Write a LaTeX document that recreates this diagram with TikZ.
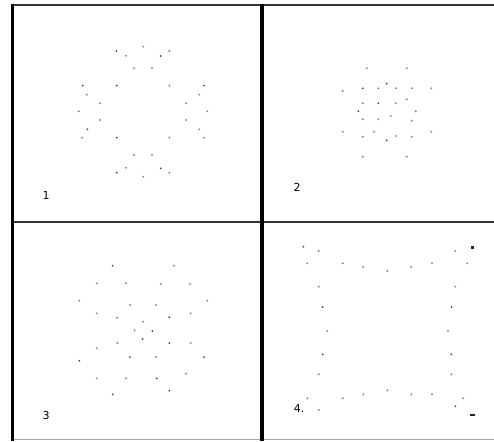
\documentclass[tikz,border=0pt]{standalone}
\usepackage{fontspec}
\setmainfont{DejaVu Sans}
\begin{document}
\begin{tikzpicture}[x=1pt, y=-1pt,
      frame/.style={line width=3.5pt, black},
      rule/.style={line width=2pt, black!80},
      dot/.style={fill=black!45},
      darkdot/.style={fill=black!75},
      tag/.style={font=\fontsize{11}{11}\selectfont, text=black, inner sep=0pt}]
    \useasboundingbox (0,0) rectangle (494,441);
    % grid
    \draw[rule] (11,5) -- (494,5);
    \draw[rule] (11,222) -- (494,222);
    \draw[line width=1pt, black!35] (11,439.5) -- (494,439.5);
    \draw[frame] (12.5,4) -- (12.5,441);
    \draw[frame] (262,4) -- (262,441);
    % panel 1
    \foreach \p in {(126,55.7),(143.3,46.7),(169.3,51),(134,68.3),(152,68.3),
        (169.3,85.7),(86.7,94.7),(199.3,94.7),(100,103.3),(186,103.3),
        (78.7,111.3),(207.3,111.3),(100,120),(186,120),(199.3,129.3),
        (82,137.7),(169.3,137.7),(204,137.7),(134,155),(152,155),
        (126,167.7),(143.3,176.7),(169.3,172.7)}
      \fill[dot] \p circle (1.1);
    \foreach \p in {(116.7,51),(160.7,56),(82.7,85.7),(116.7,85.7),(204,85.7),
        (87.3,129.3),(116.7,137.7),(116.7,172.7),(160.7,168.3)}
      \fill[darkdot] \p circle (1);
    % panel 2
    \foreach \p in {(366.7,68.3),(406.7,68.3),(342.7,91),(378.3,88.3),
        (395.7,88.3),(411.7,88.3),(431.3,88.3),(362.7,103.3),(395.7,103.3),
        (406.7,99.3),(415.7,111.3),(362.7,119.3),(378.3,119.3),(390.7,116),
        (411.7,120.7),(342.7,131.7),(374,131.7),(431.3,131.7),(362.7,136.7),
        (395.7,136),(411.7,136.7),(362.7,156.7),(406.7,156.7)}
      \fill[dot] \p circle (1.1);
    \foreach \p in {(386.7,83.7),(362.7,88.3),(378.3,103.3),(358.3,111.3),
        (386.7,140.3)}
      \fill[darkdot] \p circle (1);
    % panel 3
    \foreach \p in {(174,265.7),(96.7,283.3),(126,283.3),(160.7,284),(190,284),
        (79.3,300.7),(207.3,300.7),(130,305),(156,305),(96.7,313.3),
        (117.3,317.7),(190.7,313.3),(143.3,321.7),(134.7,330.3),(117.3,343),
        (190.7,343),(96.7,348.3),(156,357),(96.7,378.3),(126,378.3),
        (186,373.7)}
      \fill[dot] \p circle (1.1);
    \foreach \p in {(112.7,265.7),(169.3,317.3),(152.3,331),(142.7,339),
        (169.3,343),(79.3,360.7),(130,357),(204,357),(156.7,378.3),
        (112.7,394.3),(169.3,390.7)}
      \fill[darkdot] \p circle (1);
    % panel 4
    \foreach \p in {(318.7,251),(455.3,251),(307.3,263.3),(342.7,263.3),
        (363.3,267),(387.3,271),(411.3,267),(432,263.3),(467.3,263.3),
        (318.7,286.7),(455.3,286.7),(327.3,331),(448,331),(318.7,374.3),
        (451.3,374.3),(307.3,398.3),(342.7,398.3),(363.3,394.3),
        (387.3,390.3),(411.3,394.3),(432,394.3),(463.3,398.3),(318.7,410)}
      \fill[dot] \p circle (1.1);
    \foreach \p in {(303.3,246.7),(322.7,307),(451.3,307),(322.7,354.3),
        (451.3,354.3),(455.3,406.3)}
      \fill[darkdot] \p circle (1);
    \fill[black!85] (470.5,245.5) rectangle (473.5,248.5);
    \fill[black!85] (469.5,413.5) rectangle (474.5,415.5);
    % labels
    \node[tag] (one) at (46,195) {1};
    \node[tag] (two) at (297,187) {2};
    \node[tag] (three) at (46,415) {3};
    \node[tag] (four) at (299,408) {4.};
  \end{tikzpicture}
\end{document}
